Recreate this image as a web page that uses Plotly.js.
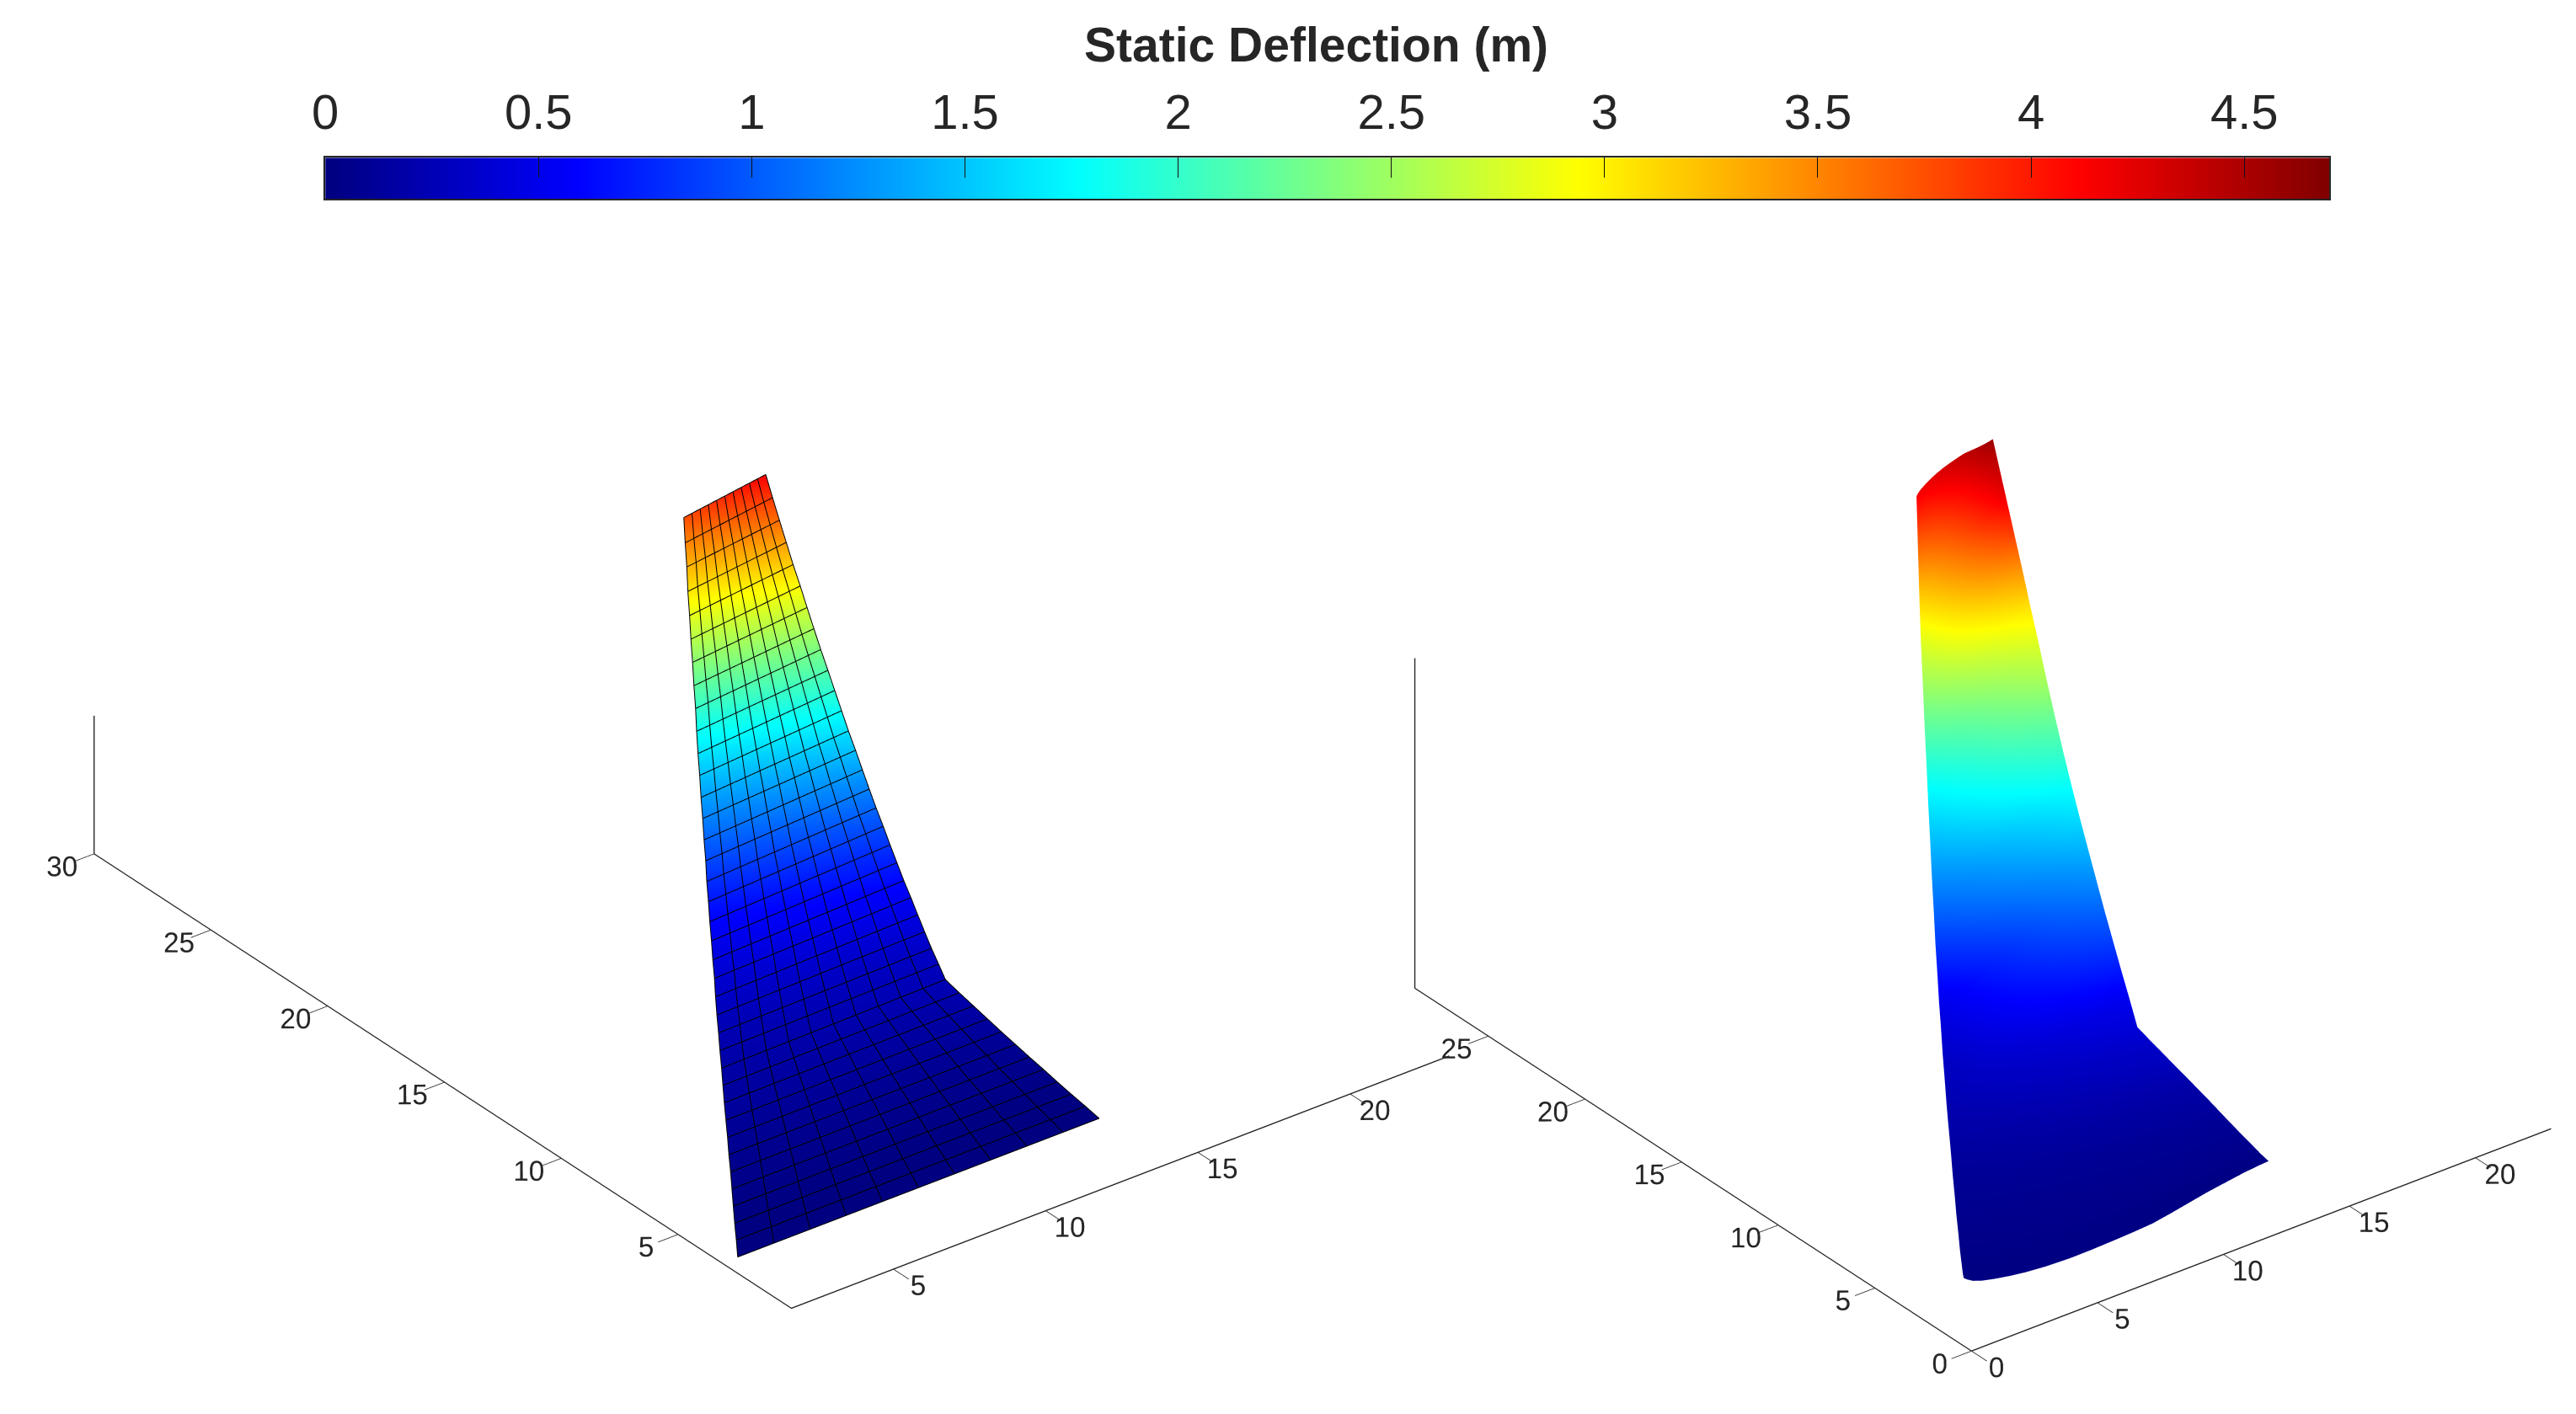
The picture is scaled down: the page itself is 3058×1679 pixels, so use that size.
<!DOCTYPE html>
<html><head><meta charset="utf-8">
<script src="https://cdn.plot.ly/plotly-3.0.1.min.js"></script>
<style>html,body{margin:0;padding:0;background:#fff}</style></head>
<body><div id="chart" style="width:3058px;height:1679px"></div>
<script>
// ---- left panel: coarse wing mesh, values read per span station
const chordFracL = [0,0.1,0.2,0.3,0.4,0.5,0.6,0.7,0.8,0.9,1];
const spanL = [3.10,3.81,4.52,5.23,5.94,6.65,7.36,8.07,8.78,9.50,10.21,10.92,11.63,12.34,13.05,13.76,14.47,15.18,15.89,16.60,17.31,18.02,18.73,19.44,20.15,20.86,21.57,22.28,22.99,23.70,24.41,25.12,25.83,26.54,27.25,27.96,28.67,29.38];
const lowXL = [2.15,2.65,3.14,3.64,4.14,4.64,5.13,5.63,6.12,6.62,7.12,7.62,8.11,8.61,9.10,9.60,10.11,10.60,11.10,11.59,12.09,12.58,13.09,13.58,14.08,14.57,15.07,15.56,16.06,16.57,17.06,17.56,18.05,18.55,19.04,19.55,20.04,20.54];
const highXL = [14.02,14.11,14.19,14.28,14.37,14.45,14.54,14.62,14.71,14.80,14.88,14.97,15.29,15.60,15.92,16.24,16.56,16.87,17.19,17.51,17.83,18.14,18.46,18.78,19.10,19.41,19.73,20.05,20.37,20.68,21.00,21.32,21.64,21.95,22.27,22.59,22.91,23.23];
const lowZL = [0,0.01,0.02,0.03,0.05,0.06,0.08,0.10,0.12,0.14,0.16,0.18,0.21,0.24,0.28,0.33,0.38,0.44,0.51,0.59,0.69,0.80,0.92,1.05,1.19,1.33,1.49,1.65,1.82,2.00,2.19,2.39,2.59,2.80,3.03,3.26,3.49,3.75];
const highZL = [0,0.01,0.02,0.03,0.05,0.07,0.09,0.12,0.15,0.18,0.22,0.26,0.29,0.33,0.39,0.46,0.54,0.62,0.72,0.82,0.94,1.06,1.19,1.33,1.48,1.63,1.80,1.97,2.14,2.33,2.52,2.72,2.93,3.14,3.37,3.60,3.84,4.10];
// ---- right panel: fine wing, values read per span station
const chordFracR = [0,0.01,0.03,0.06,0.1,0.15,0.2,0.27,0.35,0.42,0.5,0.56,0.62,0.68,0.75,0.8,0.85,0.92,0.97,1];
const sectionShapeR = [0,0.12,0.3,0.46,0.6,0.74,0.85,0.95,1,0.99,0.95,0.91,0.85,0.7,0.5,0.36,0.25,0.1,0.03,0];
const spanR = [2.75,3.25,3.75,4.75,5.75,6.75,7.75,8.75,9.75,10.5,11.3,12.25,13.25,14.25,15.25,16.25,17.25,18.25,19.25,20.25,21.25,22.25,23.25,24.25,25.25,26.25,27.25,28.75];
const lowXR = [1.80,2.15,2.50,3.19,3.89,4.58,5.28,5.97,6.67,7.19,7.74,8.40,9.10,9.79,10.49,11.18,11.88,12.57,13.27,13.96,14.66,15.35,16.05,16.74,17.44,18.13,18.83,19.87];
const highXR = [13.90,13.98,14.06,14.22,14.37,14.53,14.69,14.85,15.01,15.12,15.25,15.67,16.10,16.54,16.98,17.42,17.86,18.29,18.73,19.17,19.61,20.05,20.49,20.92,21.36,21.80,22.24,22.90];
const lowZR = [0.30,0.22,0.18,0.13,0.10,0.09,0.09,0.10,0.12,0.14,0.16,0.19,0.24,0.31,0.40,0.50,0.63,0.78,0.98,1.20,1.44,1.70,1.97,2.25,2.55,2.88,3.30,4.30];
const highZR = [0.30,0.30,0.31,0.33,0.36,0.39,0.41,0.43,0.45,0.47,0.49,0.66,0.84,1.02,1.20,1.40,1.60,1.82,2.04,2.28,2.54,2.82,3.12,3.42,3.72,4.00,4.28,4.70];
const sectionBulgeR = [-0.30,-0.20,-0.12,-0.05,-0.02,0,0,0,0,0,0,0,0,0,0,0,0,0,0,0,0,0,0,0,0,0,0.03,0.12];
const deflLowR = [0.02,0.02,0.03,0.04,0.05,0.07,0.09,0.11,0.14,0.17,0.20,0.24,0.28,0.34,0.42,0.50,0.67,0.85,1.05,1.26,1.47,1.68,1.93,2.20,2.48,2.77,3.18,4.15];
const deflHighR = [0.03,0.04,0.06,0.09,0.12,0.16,0.20,0.26,0.32,0.36,0.42,0.52,0.70,0.88,1.05,1.24,1.42,1.62,1.80,2.03,2.26,2.52,2.78,3.08,3.45,3.85,4.20,4.55];

const tickValsLX = [5,10,15,20];
const tickValsLY = [5,10,15,20,25,30];
const tickValsRX = [0,5,10,15,20];
const tickValsRY = [0,5,10,15,20,25];
const colorTicks = [0,0.5,1,1.5,2,2.5,3,3.5,4,4.5];
const colorTickText = ['0','0.5','1','1.5','2','2.5','3','3.5','4','4.5'];
const barLevels = [0,0.1,0.2,0.3,0.4,0.5,0.6,0.7,0.8,0.9,1,1.1,1.2,1.3,1.4,1.5,1.6,1.7,1.8,1.9,2,2.1,2.2,2.3,2.4,2.5,2.6,2.7,2.8,2.9,3,3.1,3.2,3.3,3.4,3.5,3.6,3.7,3.8,3.9,4,4.1,4.2,4.3,4.4,4.5,4.6,4.7];
const jet = [[0,'#000080'],[0.125,'#0000ff'],[0.375,'#00ffff'],[0.625,'#ffff00'],[0.875,'#ff0000'],[1,'#800000']];
const INK = '#262626';
const FONT = 'Liberation Sans, Arial, sans-serif';

function grid(span, lowX, highX, lowZ, highZ, frac, shape, bulge){
  const X=[],Y=[],Z=[];
  span.forEach((s,r)=>{
    X.push(frac.map(f=>lowX[r]+f*(highX[r]-lowX[r])));
    Y.push(frac.map(()=>s));
    Z.push(frac.map((f,c)=>lowZ[r]+f*(highZ[r]-lowZ[r])+(shape?shape[c]*bulge[r]:0)));
  });
  return {X,Y,Z};
}
const L = grid(spanL,lowXL,highXL,lowZL,highZL,chordFracL);
const R = grid(spanR,lowXR,highXR,lowZR,highZR,chordFracR,sectionShapeR,sectionBulgeR);
const Rcolor = spanR.map((s,r)=>chordFracR.map(f=>deflLowR[r]+f*(deflHighR[r]-deflLowR[r])));
const flat = {ambient:1,diffuse:0,specular:0,roughness:1,fresnel:0};

const mx=[],my=[],mz=[];
for(let r=0;r<spanL.length;r++){ for(let c=0;c<chordFracL.length;c++){mx.push(L.X[r][c]);my.push(L.Y[r][c]);mz.push(L.Z[r][c]+0.015);} mx.push(null);my.push(null);mz.push(null); }
for(let c=0;c<chordFracL.length;c++){ for(let r=0;r<spanL.length;r++){mx.push(L.X[r][c]);my.push(L.Y[r][c]);mz.push(L.Z[r][c]+0.015);} mx.push(null);my.push(null);mz.push(null); }

const traces = [
 {type:'surface',scene:'scene',x:L.X,y:L.Y,z:L.Z,colorscale:jet,cmin:0,cmax:4.7,showscale:false,lighting:flat,hoverinfo:'skip'},
 {type:'scatter3d',scene:'scene',mode:'lines',x:mx,y:my,z:mz,line:{color:'#000000',width:2},hoverinfo:'skip',showlegend:false},
 {type:'surface',scene:'scene2',x:R.X,y:R.Y,z:R.Z,surfacecolor:Rcolor,colorscale:jet,cmin:0,cmax:4.7,showscale:false,lighting:flat,hoverinfo:'skip'},
 {type:'heatmap',x:barLevels,y:[0,1],z:[barLevels,barLevels],colorscale:jet,zmin:0,zmax:4.7,zsmooth:'best',showscale:false,hoverinfo:'skip',xaxis:'x',yaxis:'y'}
];

function axis(range,tickvals,labels){
  return {range,autorange:false,tickmode:'array',tickvals,ticktext:tickvals.map(String),showticklabels:labels,
    showgrid:false,zeroline:false,showbackground:false,showspikes:false,showline:true,linecolor:INK,linewidth:3,
    ticks:labels?'outside':'',ticklen:30,tickwidth:2,tickcolor:INK,tickangle:0,tickfont:{family:FONT,size:20,color:INK},title:{text:''}};
}
const dir = [-0.527,-0.687,0.5];
function cam(k){return {projection:{type:'orthographic'},up:{x:0,y:0,z:1},center:{x:0,y:0,z:0},eye:{x:dir[0]*k,y:dir[1]*k,z:dir[2]*k}};}
const zoomL = 2.18, zoomR = 1.83;
const layout = {
 width:3058,height:1679,margin:{l:0,r:0,t:0,b:0},paper_bgcolor:'#fff',showlegend:false,
 annotations:[{xref:'paper',yref:'paper',x:801/1568,y:1-27/861,xanchor:'center',yanchor:'middle',showarrow:false,text:'<b>Static Deflection (m)</b>',font:{family:FONT,size:57,color:INK}}],
 xaxis:{domain:[198/1568,1418/1568],range:[0,4.7],side:'top',anchor:'y',tickmode:'array',tickvals:colorTicks,ticktext:colorTickText,ticks:'inside',ticklen:24,tickwidth:1,tickcolor:'#111',showgrid:false,zeroline:false,
   showline:true,mirror:true,linecolor:INK,linewidth:2,tickfont:{family:FONT,size:58,color:INK},ticklabelstandoff:9},
 yaxis:{domain:[0.8594,0.8885],range:[0,1],showticklabels:false,ticks:'',showgrid:false,zeroline:false,showline:true,mirror:true,linecolor:INK,linewidth:2,fixedrange:true},
 scene:{domain:{x:[8/3058,1824/3058],y:[0,0.747]},xaxis:axis([1.65,23.25],tickValsLX,true),yaxis:axis([0.15,30],tickValsLY,true),zaxis:axis([0,4.15],[],false),
   aspectmode:'manual',aspectratio:{x:zoomL*21.6/30,y:zoomL*29.85/30,z:zoomL*4.15/30},camera:cam(2),bgcolor:'rgba(0,0,0,0)'},
 scene2:{domain:{x:[1650/3058,1],y:[0,0.736]},xaxis:axis([0,23],tickValsRX,true),yaxis:axis([0,28.8],tickValsRY,true),zaxis:axis([0,4.72],[],false),
   aspectmode:'manual',aspectratio:{x:zoomR*23/30,y:zoomR*28.8/30,z:zoomR*12/30},camera:cam(2),bgcolor:'rgba(0,0,0,0)'}
};
Plotly.newPlot('chart',traces,layout,{displayModeBar:false});
</script></body></html>
